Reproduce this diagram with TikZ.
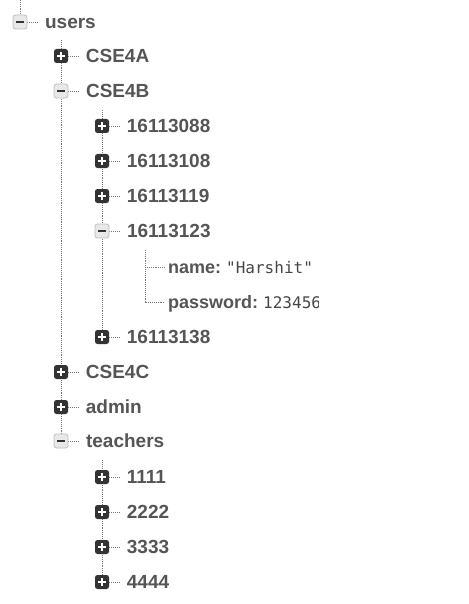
\documentclass[tikz,border=0pt]{standalone}
\usepackage{fontspec}
\setmainfont{Liberation Sans}
\newfontfamily\valfont{DejaVu Sans Mono}
\usetikzlibrary{positioning, calc, backgrounds}
\definecolor{boxdark}{RGB}{51, 51, 51}
\definecolor{boxlight}{RGB}{232, 232, 232}
\definecolor{boxedge}{RGB}{190, 190, 190}
\definecolor{keygray}{RGB}{85, 85, 85}
\definecolor{valgray}{RGB}{70, 70, 70}
\definecolor{linegray}{RGB}{120, 120, 120}

\tikzset{
  treeline/.style={draw=linegray, densely dotted, line width=0.9pt},
  plusbox/.style={rectangle, rounded corners=2.5pt, minimum size=14pt, inner sep=0pt, fill=boxdark,
    path picture={
      \draw[white, line width=2.4pt] ([xshift=-3.6pt]path picture bounding box.center) -- ([xshift=3.6pt]path picture bounding box.center);
      \draw[white, line width=2.4pt] ([yshift=-3.6pt]path picture bounding box.center) -- ([yshift=3.6pt]path picture bounding box.center);
    }},
  minusbox/.style={rectangle, rounded corners=2.5pt, minimum size=14pt, inner sep=0pt, fill=boxlight, draw=boxedge, line width=0.8pt,
    path picture={
      \draw[boxdark, line width=2.4pt] ([xshift=-3.8pt]path picture bounding box.center) -- ([xshift=3.8pt]path picture bounding box.center);
    }},
  keylabel/.style={anchor=west, inner xsep=7pt, inner ysep=0pt, text height=13.6pt, text depth=0pt,
    font=\fontsize{19}{21}\selectfont\bfseries, text=keygray},
  leaflabel/.style={anchor=west, inner xsep=3pt, inner ysep=0pt, text height=13pt, text depth=0pt,
    font=\fontsize{18}{20}\selectfont\bfseries, text=keygray},
}

\begin{document}
\begin{tikzpicture}[x=1pt, y=-1pt]
  \useasboundingbox (0,0) rectangle (468,604);

  % root
  \coordinate (rootTop) at (20,0);
  \node[minusbox] (users) at (20,22) {};
  \node[keylabel, right=10.5pt of users.east, anchor=west] (usersLbl) {users};

  % level 1
  \coordinate (usersTrunk) at (61,40);
  \node[plusbox]  (cseA) at (61,56) {};
  \node[minusbox] (cseB) at (61,91) {};
  \node[plusbox]  (cseC) at (61,372) {};
  \node[plusbox]  (admin) at (61,407) {};
  \node[minusbox] (teachers) at (61,441) {};
  \node[keylabel, right=10.5pt of cseA.east, anchor=west] (cseALbl) {CSE4A};
  \node[keylabel, right=10.5pt of cseB.east, anchor=west] (cseBLbl) {CSE4B};
  \node[keylabel, right=10.5pt of cseC.east, anchor=west] (cseCLbl) {CSE4C};
  \node[keylabel, right=10.5pt of admin.east, anchor=west] (adminLbl) {admin};
  \node[keylabel, right=10.5pt of teachers.east, anchor=west] (teachersLbl) {teachers};

  % CSE4B students
  \coordinate (cseBTrunk) at (102,110);
  \node[plusbox]  (s088) at (102,126) {};
  \node[plusbox]  (s108) at (102,161) {};
  \node[plusbox]  (s119) at (102,196) {};
  \node[minusbox] (s123) at (102,231) {};
  \node[plusbox]  (s138) at (102,337) {};
  \node[keylabel, right=10.5pt of s088.east, anchor=west] (s088Lbl) {16113088};
  \node[keylabel, right=10.5pt of s108.east, anchor=west] (s108Lbl) {16113108};
  \node[keylabel, right=10.5pt of s119.east, anchor=west] (s119Lbl) {16113119};
  \node[keylabel, right=10.5pt of s123.east, anchor=west] (s123Lbl) {16113123};
  \node[keylabel, right=10.5pt of s138.east, anchor=west] (s138Lbl) {16113138};

  % fields of 16113123
  \coordinate (s123Trunk) at (145,250);
  \coordinate (nameCorner) at (145,267);
  \begin{scope}
    \clip (0,0) rectangle (318,604);
    \node[leaflabel] (nameLbl) at (165,267) {name:~{\mdseries\valfont\fontsize{16}{18}\selectfont\color{valgray}"Harshit"}};
    \node[leaflabel] (pwdLbl) at (165,302) {password:~{\mdseries\valfont\fontsize{16}{18}\selectfont\color{valgray}123456}};
  \end{scope}

  % teachers
  \coordinate (teachersTrunk) at (102,460);
  \node[plusbox] (t1111) at (102,477) {};
  \node[plusbox] (t2222) at (102,512) {};
  \node[plusbox] (t3333) at (102,547) {};
  \node[plusbox] (t4444) at (102,582) {};
  \node[keylabel, right=10.5pt of t1111.east, anchor=west] (t1111Lbl) {1111};
  \node[keylabel, right=10.5pt of t2222.east, anchor=west] (t2222Lbl) {2222};
  \node[keylabel, right=10.5pt of t3333.east, anchor=west] (t3333Lbl) {3333};
  \node[keylabel, right=10.5pt of t4444.east, anchor=west] (t4444Lbl) {4444};

  \begin{scope}[on background layer]
    \draw[treeline] (rootTop) -- (users.center);
    \draw[treeline] (usersTrunk) -- (teachers.center);
    \draw[treeline] (cseBTrunk) -- (s138.center);
    \draw[treeline] (teachersTrunk) -- (t4444.center);
    \draw[treeline] (s123Trunk) |- (pwdLbl.west);
    \draw[treeline] (nameCorner) -- (nameLbl.west);
    \foreach \n in {users, cseA, cseB, cseC, admin, teachers, s088, s108, s119, s123, s138, t1111, t2222, t3333, t4444}
      \draw[treeline] (\n.east) -- (\n Lbl.west);
  \end{scope}
\end{tikzpicture}
\end{document}
